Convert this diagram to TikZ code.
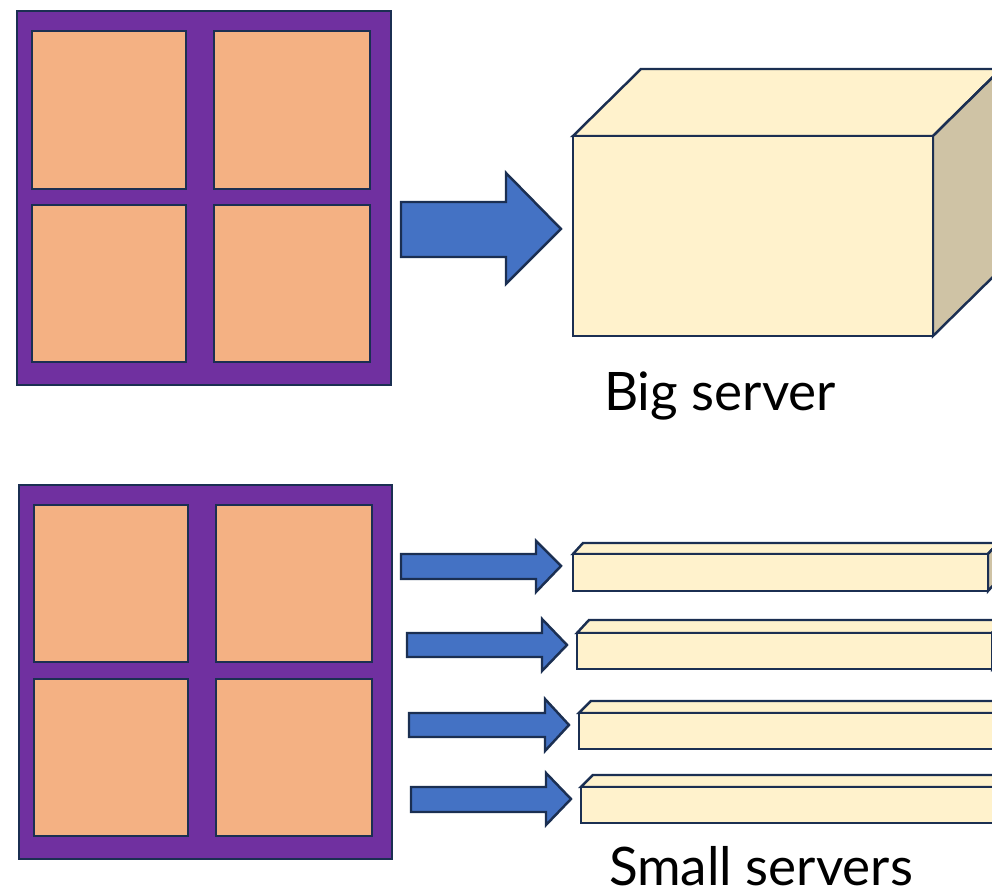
\documentclass[tikz,border=0pt]{standalone}
\usepackage{fontspec}
\setmainfont{Lato}

\definecolor{frame}{HTML}{7030A0}
\definecolor{core}{HTML}{F4B183}
\definecolor{arrowblue}{HTML}{4472C4}
\definecolor{cream}{HTML}{FFF2CC}
\definecolor{side}{HTML}{CFC3A5}
\definecolor{edge}{HTML}{1B2F52}

\begin{document}
\begin{tikzpicture}[y=-1cm,line width=0.7pt,line join=miter,
  outer/.style={draw=edge,fill=frame},
  cell/.style={draw=edge,fill=core},
  blockarrow/.style={draw=edge,fill=arrowblue},
  face/.style={draw=edge,fill=cream},
  sideface/.style={draw=edge,fill=side},
  caption/.style={font=\fontsize{15.1}{18}\selectfont,inner sep=0pt}]

\useasboundingbox (0,0) rectangle (9.92,8.93);

% first machine
\draw[outer] (0.17,0.11) rectangle (3.91,3.85);
\draw[cell] (0.32,0.31) rectangle (1.86,1.89);
\draw[cell] (2.14,0.31) rectangle (3.70,1.89);
\draw[cell] (0.32,2.05) rectangle (1.86,3.62);
\draw[cell] (2.14,2.05) rectangle (3.70,3.62);

% arrow to the big server
\draw[blockarrow] (4.01,2.02) -- (5.06,2.02) -- (5.06,1.73) -- (5.61,2.29)
  -- (5.06,2.84) -- (5.06,2.57) -- (4.01,2.57) -- cycle;

% big server
\draw[face] (5.73,1.36) -- (6.41,0.69) -- (10.01,0.69) -- (9.33,1.36) -- cycle;
\draw[sideface] (9.33,1.36) -- (10.01,0.69) -- (10.01,2.69) -- (9.33,3.36) -- cycle;
\draw[face] (5.73,1.36) rectangle (9.33,3.36);

\node[caption] (bigl) at (7.20,3.96) {Big server};

% second machine
\draw[outer] (0.19,4.85) rectangle (3.92,8.59);
\draw[cell] (0.34,5.05) rectangle (1.88,6.62);
\draw[cell] (2.16,5.05) rectangle (3.72,6.62);
\draw[cell] (0.34,6.79) rectangle (1.88,8.36);
\draw[cell] (2.16,6.79) rectangle (3.72,8.36);

% arrows to the small servers
\draw[blockarrow] (4.01,5.54) -- (5.36,5.54) -- (5.36,5.41) -- (5.61,5.66)
  -- (5.36,5.92) -- (5.36,5.79) -- (4.01,5.79) -- cycle;
\draw[blockarrow] (4.07,6.33) -- (5.42,6.33) -- (5.42,6.19) -- (5.67,6.45)
  -- (5.42,6.71) -- (5.42,6.57) -- (4.07,6.57) -- cycle;
\draw[blockarrow] (4.09,7.13) -- (5.45,7.13) -- (5.45,6.99) -- (5.69,7.25)
  -- (5.45,7.51) -- (5.45,7.37) -- (4.09,7.37) -- cycle;
\draw[blockarrow] (4.11,7.87) -- (5.46,7.87) -- (5.46,7.73) -- (5.71,7.99)
  -- (5.46,8.25) -- (5.46,8.12) -- (4.11,8.12) -- cycle;

% small servers
\draw[face] (5.73,5.54) -- (5.83,5.43) -- (9.98,5.43) -- (9.88,5.54) -- cycle;
\draw[sideface] (9.88,5.54) -- (9.98,5.43) -- (9.98,5.80) -- (9.88,5.91) -- cycle;
\draw[face] (5.73,5.54) rectangle (9.88,5.91);

\draw[face] (5.77,6.33) -- (5.89,6.20) -- (10.04,6.20) -- (9.92,6.33) -- cycle;
\draw[sideface] (9.92,6.33) -- (10.04,6.20) -- (10.04,6.56) -- (9.92,6.69) -- cycle;
\draw[face] (5.77,6.33) rectangle (9.92,6.69);

\draw[face] (5.79,7.13) -- (5.91,7.01) -- (10.10,7.01) -- (9.98,7.13) -- cycle;
\draw[face] (5.79,7.13) rectangle (10.10,7.49);

\draw[face] (5.81,7.87) -- (5.93,7.75) -- (10.10,7.75) -- (9.98,7.87) -- cycle;
\draw[face] (5.81,7.87) rectangle (10.10,8.23);

\node[caption] (smalll) at (7.61,8.66) {Small servers};

\end{tikzpicture}
\end{document}
